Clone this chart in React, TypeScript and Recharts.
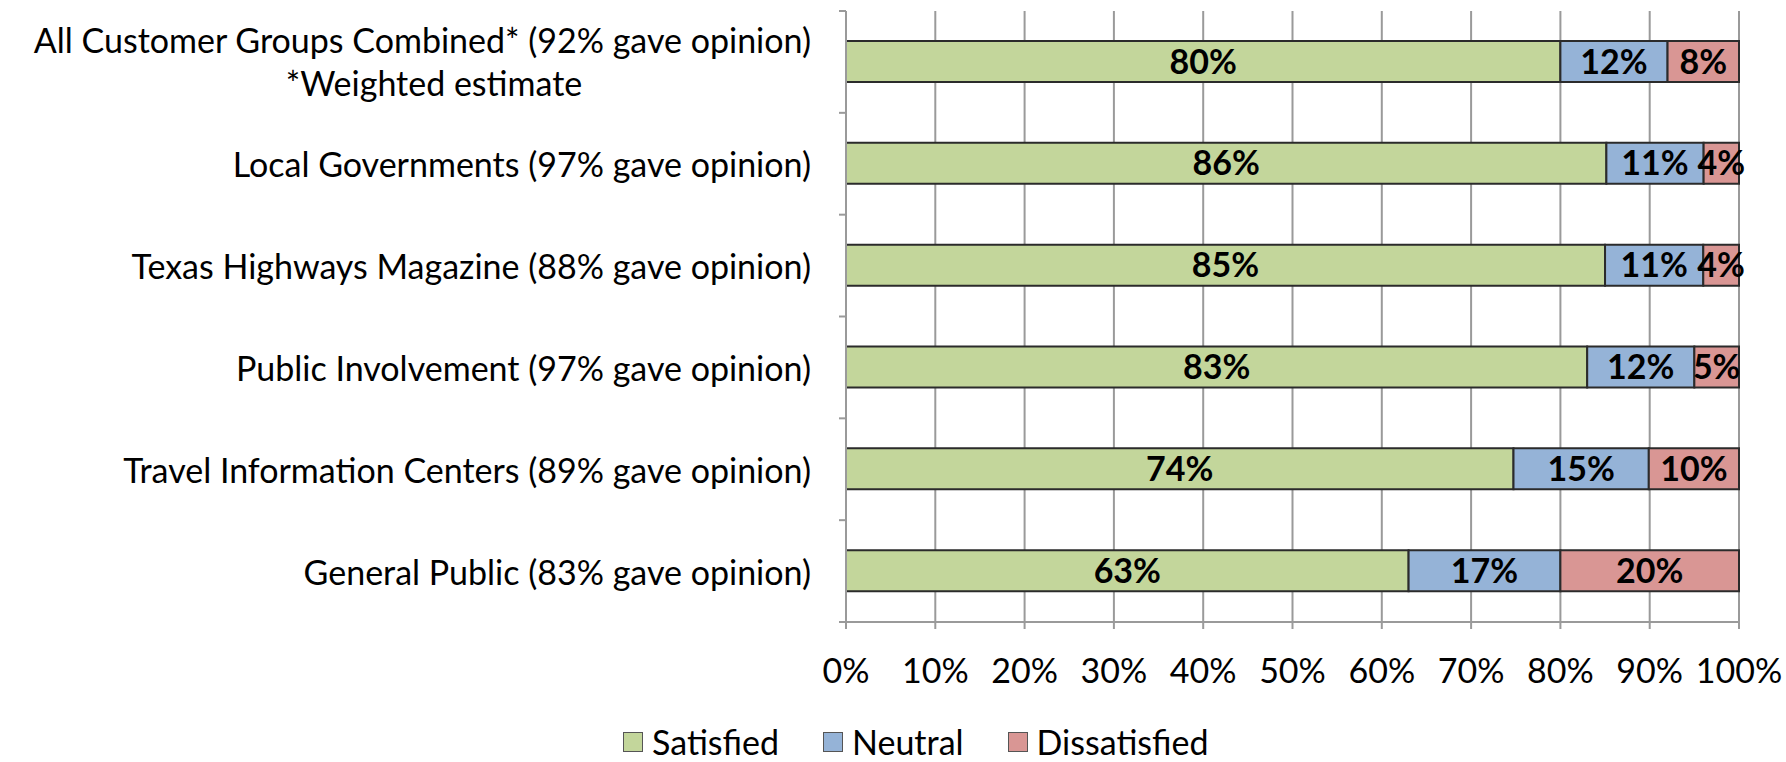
import { BarChart, Bar, XAxis, YAxis, CartesianGrid, LabelList, Legend } from "recharts";

// customer groups, top to bottom
const categories = [
  "All Customer Groups Combined* (92% gave opinion)",
  "Local Governments (97% gave opinion)",
  "Texas Highways Magazine (88% gave opinion)",
  "Public Involvement (97% gave opinion)",
  "Travel Information Centers (89% gave opinion)",
  "General Public (83% gave opinion)",
];
const categoryNotes = ["*Weighted estimate", "", "", "", "", ""];

const satisfied = [80, 86, 85, 83, 74, 63];
const neutral = [12, 11, 11, 12, 15, 17];
const dissatisfied = [8, 4, 4, 5, 10, 20];

const xTicks = [0, 10, 20, 30, 40, 50, 60, 70, 80, 90, 100];

const series = [
  { key: "satisfied", name: "Satisfied", color: "#C3D69B" },
  { key: "neutral", name: "Neutral", color: "#95B3D7" },
  { key: "dissatisfied", name: "Dissatisfied", color: "#D99694" },
];

const data = categories.map((name, i) => ({
  name,
  satisfied: satisfied[i],
  neutral: neutral[i],
  dissatisfied: dissatisfied[i],
}));

const W = 1786;
const H = 762;
const FONT = "Lato, 'Liberation Sans', sans-serif";
const FS = 34;
const PLOT_LEFT = 846;
const PLOT_TOP = 11;
const PLOT_BOTTOM = 622;
const BAND = (PLOT_BOTTOM - PLOT_TOP) / categories.length;
const LABEL_RIGHT = 811;
const LEGEND_H = 40;
const AXIS_GRAY = "#9a9a9a";

let measureCtx: CanvasRenderingContext2D | null = null;
function textWidth(s: string) {
  if (!measureCtx) measureCtx = document.createElement("canvas").getContext("2d");
  if (!measureCtx) return s.length * FS * 0.46;
  measureCtx.font = `${FS}px ${FONT}`;
  return measureCtx.measureText(s).width;
}

// category label plus the short Excel-style ticks between bands
const CategoryTick = (props: any) => {
  const { y, payload, index } = props;
  const note = categoryNotes[index];
  const last = index === categories.length - 1;
  const style = { fontFamily: FONT, fontSize: FS, fill: "#000" };
  return (
    <g>
      <line x1={PLOT_LEFT - 7} x2={PLOT_LEFT} y1={y - BAND / 2} y2={y - BAND / 2} stroke={AXIS_GRAY} strokeWidth={2} />
      {last && (
        <line x1={PLOT_LEFT - 7} x2={PLOT_LEFT} y1={y + BAND / 2} y2={y + BAND / 2} stroke={AXIS_GRAY} strokeWidth={2} />
      )}
      {note ? (
        <>
          <text x={LABEL_RIGHT} y={y - 22} textAnchor="end" dominantBaseline="central" style={style}>
            {payload.value}
          </text>
          <text
            x={LABEL_RIGHT - textWidth(payload.value) / 2 + 12}
            y={y + 21}
            textAnchor="middle"
            dominantBaseline="central"
            style={style}
          >
            {note}
          </text>
        </>
      ) : (
        <text x={LABEL_RIGHT} y={y} textAnchor="end" dominantBaseline="central" style={style}>
          {payload.value}
        </text>
      )}
    </g>
  );
};

const PercentTick = (props: any) => {
  const { x, y, payload } = props;
  return (
    <text x={x} y={y + 38} textAnchor="middle" dominantBaseline="central" style={{ fontFamily: FONT, fontSize: FS, fill: "#000" }}>
      {Math.round(payload.value * 100)}%
    </text>
  );
};

const LegendContent = () => (
  <div style={{ display: "flex", paddingLeft: 623, fontFamily: FONT, fontSize: FS, lineHeight: `${LEGEND_H}px`, height: LEGEND_H }}>
    {series.map((s) => (
      <div key={s.key} style={{ display: "flex", alignItems: "center", marginRight: 44 }}>
        <span style={{ width: 18, height: 18, background: s.color, border: "1.5px solid #555", marginRight: 9 }} />
        <span>{s.name}</span>
      </div>
    ))}
  </div>
);

export default function App() {
  return (
    <div style={{ width: W, height: H, background: "#fff" }}>
      <style>{`body{margin:0}`}</style>
      <BarChart
        width={W}
        height={H}
        data={data}
        layout="vertical"
        stackOffset="expand"
        margin={{ top: PLOT_TOP, right: W - 1739, bottom: 0, left: 0 }}
      >
        <CartesianGrid horizontal={false} stroke={AXIS_GRAY} strokeWidth={2} />
        <XAxis
          type="number"
          domain={[0, 1]}
          ticks={xTicks.map((t) => t / 100)}
          tick={<PercentTick />}
          tickLine={{ stroke: AXIS_GRAY, strokeWidth: 2 }}
          tickSize={7}
          axisLine={{ stroke: AXIS_GRAY, strokeWidth: 2 }}
          height={H - PLOT_BOTTOM - LEGEND_H}
          interval={0}
        />
        <YAxis
          type="category"
          dataKey="name"
          width={PLOT_LEFT}
          tick={<CategoryTick />}
          tickLine={false}
          axisLine={{ stroke: AXIS_GRAY, strokeWidth: 2 }}
          interval={0}
        />
        <Legend verticalAlign="bottom" height={LEGEND_H} content={<LegendContent />} />
        {series.map((s) => (
          <Bar
            key={s.key}
            dataKey={s.key}
            name={s.name}
            stackId="a"
            fill={s.color}
            stroke="#2b2b2b"
            strokeWidth={2}
            barSize={41}
            isAnimationActive={false}
          >
            <LabelList
              dataKey={s.key}
              position="center"
              formatter={(v: any) => `${v}%`}
              style={{ fontFamily: FONT, fontSize: FS, fontWeight: 700, fill: "#000" }}
            />
          </Bar>
        ))}
      </BarChart>
    </div>
  );
}
